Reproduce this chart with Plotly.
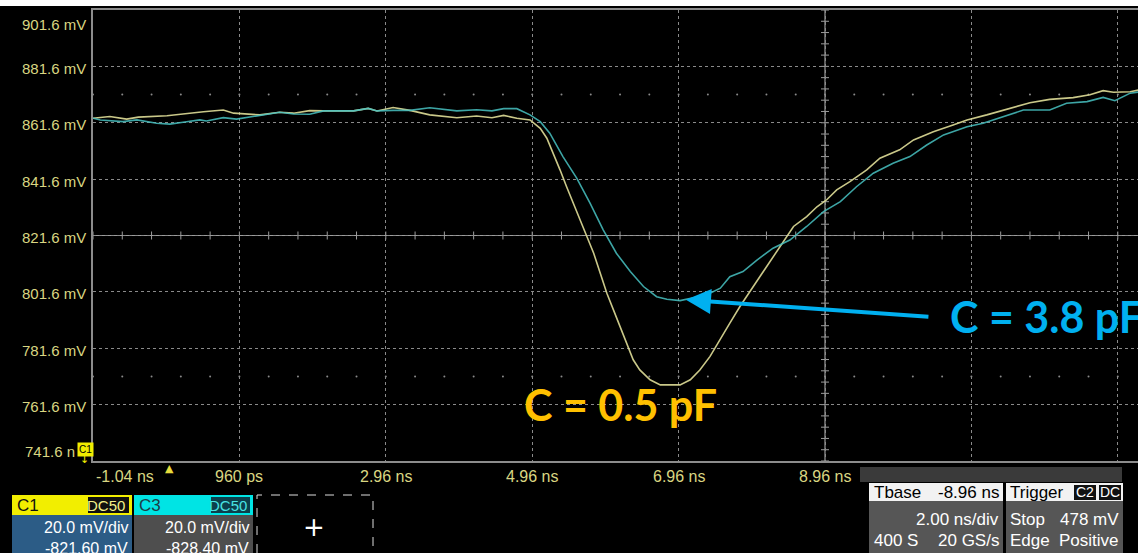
import plotly.graph_objects as go

# ---------------- data (time in ns, voltage in mV) ----------------
t_c1 = [-1.04, -0.81, -0.58, -0.42, -0.03, 0.24, 0.47, 0.74, 0.88, 1.24, 1.51, 1.70, 1.92,
        2.11, 2.52, 2.72, 2.84, 3.06, 3.29, 3.56, 3.93, 4.20, 4.41, 4.57, 4.75, 4.93, 5.07,
        5.16, 5.25, 5.34, 5.43, 5.52, 5.61, 5.70, 5.80, 5.89, 5.98, 6.07, 6.16, 6.25, 6.34,
        6.43, 6.57, 6.71, 6.98, 7.12, 7.25, 7.39, 7.53, 7.66, 7.80, 7.98, 8.16, 8.35, 8.53,
        8.71, 8.85, 8.98, 9.12, 9.30, 9.53, 9.71, 9.98, 10.17, 10.44, 10.71, 10.90, 11.17,
        11.44, 11.76, 12.03, 12.35, 12.58, 12.76, 12.90, 13.13, 13.24]
v_c1 = [863.2, 863.8, 862.9, 863.6, 864.1, 865.0, 865.5, 866.1, 865.0, 864.4, 865.3, 865.0, 865.9,
        865.8, 865.8, 866.7, 865.8, 867.0, 866.0, 864.4, 863.4, 864.0, 863.4, 864.2, 863.2, 862.6, 859.6,
        856.1, 850.8, 844.9, 838.9, 833.1, 827.1, 821.2, 815.3, 808.2, 801.1, 795.2, 789.3, 783.4, 777.5,
        773.9, 770.4, 768.6, 768.6, 770.4, 773.9, 778.7, 784.6, 790.5, 796.5, 803.5, 810.6, 817.7, 824.8,
        828.3, 831.8, 834.2, 837.8, 840.7, 844.9, 849.0, 852.0, 855.5, 858.4, 860.8, 862.6, 864.4,
        866.4, 868.7, 869.9, 870.5, 871.5, 873.0, 872.4, 872.6, 873.2]

t_c3 = [-1.04, -0.94, -0.63, -0.44, -0.17, 0.01, 0.19, 0.42, 0.51, 0.74, 0.92, 1.24, 1.51, 1.70,
        1.92, 2.11, 2.52, 2.72, 2.84, 3.06, 3.29, 3.56, 3.93, 4.20, 4.41, 4.57, 4.75, 4.93, 5.07,
        5.20, 5.38, 5.57, 5.75, 5.93, 6.11, 6.30, 6.48, 6.66, 6.80, 6.98, 7.16, 7.34, 7.53, 7.66,
        7.84, 8.03, 8.25, 8.48, 8.71, 8.94, 9.17, 9.39, 9.62, 9.89, 10.12, 10.35, 10.58, 10.90,
        11.12, 11.40, 11.67, 12.03, 12.26, 12.54, 12.76, 12.92, 13.13, 13.24]
v_c3 = [863.2, 862.6, 862.0, 862.6, 861.4, 861.1, 861.8, 862.6, 862.2, 863.4, 862.9, 864.1, 865.3, 864.7,
        864.6, 865.8, 865.8, 866.7, 865.8, 866.0, 866.0, 866.9, 865.8, 866.2, 865.8, 866.6, 866.6, 864.4, 862.0,
        857.9, 849.6, 841.9, 833.1, 823.6, 815.3, 808.8, 803.5, 799.9, 799.0, 798.5, 799.4, 800.5, 802.9, 807.0,
        808.8, 812.9, 817.1, 820.0, 824.8, 830.1, 833.6, 838.9, 843.7, 847.2, 849.6, 853.7, 857.3, 860.2,
        861.4, 863.8, 866.1, 866.1, 868.5, 869.1, 870.6, 869.4, 872.1, 872.5]

y_ticks = [901.6, 881.6, 861.6, 841.6, 821.6, 801.6, 781.6, 761.6, 741.6]
x_ticks = [-1.04, 0.96, 2.96, 4.96, 6.96, 8.96]
x_tick_labels = ["-1.04 ns", "960 ps", "2.96 ns", "4.96 ns", "6.96 ns", "8.96 ns"]

X_MIN, X_MAX = -1.04, 13.236
Y_MIN, Y_MAX = 741.6, 901.6
CENTER_T, CENTER_V = 8.96, 821.6

W, H = 1138, 553
ML, MR, MT, MB = 93, 0, 10, 92
PW, PH = W - ML - MR, H - MT - MB

def px(x):
    return (x - ML) / PW

def py(y):
    return (H - MB - y) / PH

SCOPE_FONT = "Liberation Sans Narrow, Arial Narrow, Liberation Sans, Arial, sans-serif"
LABEL_COL = "#d9d682"
CALLOUT_FONT = "Lato, Open Sans, sans-serif"

fig = go.Figure()

# dotted rows of minor marks
dot_t = []
k = 0
while X_MIN + 0.4 * k <= X_MAX:
    dot_t.append(X_MIN + 0.4 * k)
    k += 1
for lvl in (CENTER_V + 50, CENTER_V - 50):
    fig.add_trace(go.Scatter(x=dot_t, y=[lvl] * len(dot_t), mode="markers",
                             marker=dict(size=2, color="#8a8a8a"), hoverinfo="skip",
                             showlegend=False))

fig.add_trace(go.Scatter(x=t_c1, y=v_c1, mode="lines", name="C1",
                         line=dict(color="#e0de98", width=1.6), opacity=0.9,
                         hoverinfo="skip", showlegend=False))
fig.add_trace(go.Scatter(x=t_c3, y=v_c3, mode="lines", name="C3",
                         line=dict(color="#48c2c2", width=1.6), opacity=0.85,
                         hoverinfo="skip", showlegend=False))

shapes = []
# centre cross lines
shapes.append(dict(type="line", xref="x", yref="paper", x0=CENTER_T, x1=CENTER_T, y0=0, y1=1,
                   line=dict(color="#9c9c9c", width=1.2), layer="below"))
shapes.append(dict(type="line", xref="paper", yref="y", x0=0, x1=1, y0=CENTER_V, y1=CENTER_V,
                   line=dict(color="#9c9c9c", width=1.2), layer="below"))
# minor ticks on centre lines
for t in dot_t:
    shapes.append(dict(type="line", xref="x", yref="y", ysizemode="pixel", yanchor=CENTER_V,
                       x0=t, x1=t, y0=-4, y1=4, line=dict(color="#9c9c9c", width=1), layer="below"))
v = Y_MIN
while v <= Y_MAX + 1e-6:
    shapes.append(dict(type="line", xref="x", yref="y", xsizemode="pixel", xanchor=CENTER_T,
                       x0=-4, x1=4, y0=v, y1=v, line=dict(color="#9c9c9c", width=1), layer="below"))
    v += 4

# top white strip (slide background)
shapes.append(dict(type="rect", xref="paper", yref="paper", x0=px(0), x1=px(W), y0=py(0), y1=py(6),
                   fillcolor="white", line=dict(width=0)))

# bottom panels
def rect(x0, y0, x1, y1, fill, line=None, dash=None):
    ln = dict(width=0) if line is None else dict(color=line, width=1, dash=dash or "solid")
    shapes.append(dict(type="rect", xref="paper", yref="paper", x0=px(x0), x1=px(x1),
                       y0=py(y1), y1=py(y0), fillcolor=fill, line=ln, layer="above"))

rect(12, 495, 132, 515, "#f2ee00")
rect(12, 515, 132, 553, "#2c5c86")
rect(88, 497, 129, 513, "#101010")
rect(134, 495, 253, 515, "#00e4e4")
rect(134, 515, 253, 553, "#4e4e4e")
rect(211, 497, 250, 513, "#0c3f4c")
rect(257, 495, 373, 556, "rgba(0,0,0,0)", line="#dddddd", dash="dash")

rect(860, 467, 1122, 482, "#3a3a3a")
rect(869, 483, 1003, 501, "#f2f2f2")
rect(869, 501, 1003, 553, "#565656")
rect(1006, 483, 1123, 501, "#f2f2f2")
rect(1006, 501, 1123, 553, "#565656")
rect(1074, 485, 1096, 500, "#111111")
rect(1099, 485, 1121, 500, "#111111")

annotations = []

def label(x, y, text, color, size=16, xanchor="left", font=SCOPE_FONT, bg=None):
    a = dict(xref="paper", yref="paper", x=px(x), y=py(y), text=text, showarrow=False,
             xanchor=xanchor, yanchor="middle", font=dict(family=font, size=size, color=color))
    if bg:
        a["bgcolor"] = bg
    annotations.append(a)

# y tick labels
for i, val in enumerate(y_ticks):
    ypix = MT + (Y_MAX - val) / (Y_MAX - Y_MIN) * PH
    txt = f"{val:.1f} mV"
    xr = 88
    if i == 0:
        ypix += 13
    elif i == len(y_ticks) - 1:
        ypix -= 12
        txt = f"{val:.1f} n"
        xr = 77
    ypix += 2
    label(xr, ypix, txt, LABEL_COL, size=15, xanchor="right")

# x tick labels
for i, (tv, tl) in enumerate(zip(x_ticks, x_tick_labels)):
    xpix = ML + (tv - X_MIN) / (X_MAX - X_MIN) * PW
    if i == 0:
        label(xpix + 1, 476, tl, LABEL_COL, size=16, xanchor="left")
    else:
        label(xpix, 476, tl, LABEL_COL, size=16, xanchor="center")

# trigger marker and C1 offset marker
label(169, 468, "▲", "#e6dc3c", size=11, xanchor="center", font="DejaVu Sans")
label(85, 449, "C1", "#000000", size=10, xanchor="center", bg="#f0ec00")
label(84, 459, "↓", "#f0ec00", size=11, xanchor="center", font="DejaVu Sans")

# channel boxes
label(15, 505, "C1", "#111111", size=17)
label(127, 505, "DC50", "#f4f08a", size=15, xanchor="right")
label(130, 527, "20.0 mV/div", "#ffffff", size=16, xanchor="right")
label(130, 548, "-821.60 mV", "#ffffff", size=16, xanchor="right")
label(137, 505, "C3", "#1e3c46", size=17)
label(249, 505, "DC50", "#49e3e3", size=15, xanchor="right")
label(251, 527, "20.0 mV/div", "#ffffff", size=16, xanchor="right")
label(251, 548, "-828.40 mV", "#ffffff", size=16, xanchor="right")
label(314, 527, "+", "#ffffff", size=26, xanchor="center", font="DejaVu Sans")

# timebase / trigger
label(872, 492, "Tbase", "#000000", size=17)
label(1001, 492, "-8.96 ns", "#000000", size=17, xanchor="right")
label(1001, 519, "2.00 ns/div", "#ffffff", size=17, xanchor="right")
label(872, 540, "400 S", "#ffffff", size=17)
label(1001, 540, "20 GS/s", "#ffffff", size=17, xanchor="right")
label(1008, 492, "Trigger", "#000000", size=17)
label(1085, 492, "C2", "#ffffff", size=14, xanchor="center")
label(1110, 492, "DC", "#ffffff", size=14, xanchor="center")
label(1008, 519, "Stop", "#ffffff", size=17)
label(1121, 519, "478 mV", "#ffffff", size=17, xanchor="right")
label(1008, 540, "Edge", "#ffffff", size=17)
label(1121, 540, "Positive", "#ffffff", size=17, xanchor="right")

# callouts
annotations.append(dict(xref="x", yref="y", x=7.06, y=798.8, text="", showarrow=True,
                        ax=244, ay=17, arrowhead=2, arrowsize=1.25, arrowwidth=4,
                        arrowcolor="#00b0f0"))
label(948, 316, "<b>C = 3.8 pF</b>", "#00b0f0", size=43, font=CALLOUT_FONT)
label(522, 404, "<b>C = 0.5 pF</b>", "#ffc000", size=43, font=CALLOUT_FONT)

fig.update_layout(
    width=W, height=H,
    margin=dict(l=ML, r=MR, t=MT, b=MB, pad=0),
    paper_bgcolor="#000000", plot_bgcolor="#000000",
    showlegend=False,
    xaxis=dict(range=[X_MIN, X_MAX], tick0=X_MIN, dtick=2, showgrid=True, gridcolor="#8a8a8a",
               griddash="dot", gridwidth=1, zeroline=False, showticklabels=False, ticks="",
               showline=True, linecolor="#8c8c8c", linewidth=1.5, mirror=True, fixedrange=True),
    yaxis=dict(range=[Y_MIN, Y_MAX], tick0=Y_MIN, dtick=20, showgrid=True, gridcolor="#8a8a8a",
               griddash="dot", gridwidth=1, zeroline=False, showticklabels=False, ticks="",
               showline=True, linecolor="#8c8c8c", linewidth=1.5, mirror=False, fixedrange=True),
    shapes=shapes,
    annotations=annotations,
)

fig.write_html("out.html", config={"displayModeBar": False})
